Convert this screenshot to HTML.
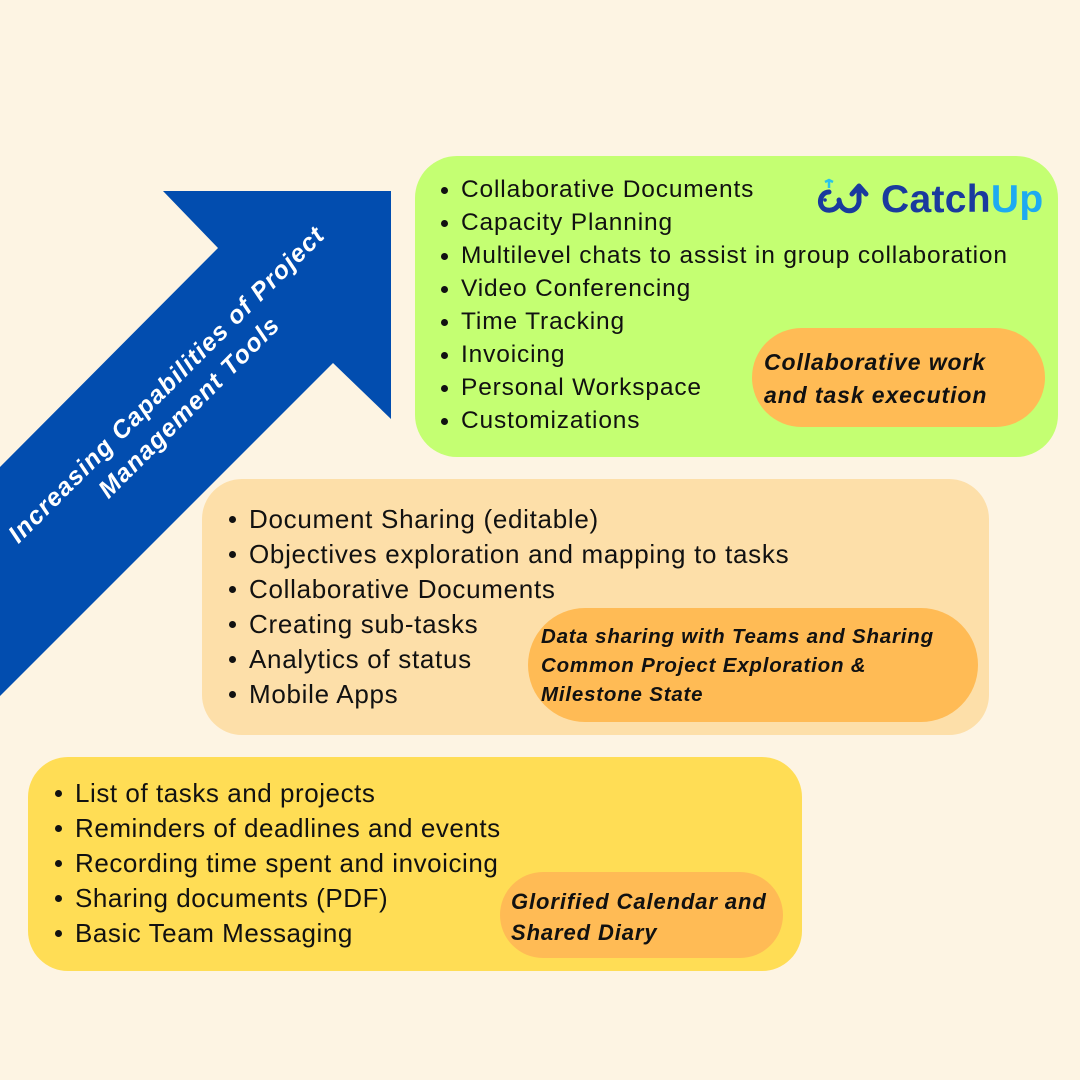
<!DOCTYPE html>
<html><head><meta charset="utf-8"><style>
*{margin:0;padding:0;box-sizing:border-box}
body{width:1080px;height:1080px;background:#fdf4e3;position:relative;overflow:hidden;font-family:"Liberation Sans",sans-serif;color:#111}
.box{position:absolute}
.l{position:absolute;white-space:nowrap}
.l:before{content:"";position:absolute;width:7px;height:7px;border-radius:50%;background:#111;top:50%;margin-top:-3px;left:-20px}
.pill{position:absolute;background:#ffbb55;border-radius:50px}
.pt{position:absolute;font-weight:bold;font-style:italic;white-space:nowrap;color:#111}
</style></head><body>
<svg style="position:absolute;left:0;top:0" width="1080" height="1080">
<polygon points="163,191 391,191 391,419 333,363 0,696 0,467 218,248" fill="#024daf"/>
<g transform="translate(178,396) rotate(-45)" fill="#fff" font-family="Liberation Sans" font-weight="bold" font-style="italic" font-size="25" letter-spacing="1.2" text-anchor="middle">
<text x="0" y="-8">Increasing Capabilities of Project</text>
<text x="0" y="24">Management Tools</text>
</g>
</svg>

<div class="box" style="left:415px;top:156px;width:643px;height:301px;background:#c4ff72;border-radius:42px"></div>
<div class="box" style="left:202px;top:479px;width:787px;height:256px;background:#fddfa9;border-radius:40px"></div>
<div class="box" style="left:28px;top:757px;width:774px;height:214px;background:#ffdd55;border-radius:40px"></div>

<div style="position:absolute;left:461px;top:0;font-size:24.5px;letter-spacing:0.85px">
<div class="l" style="top:175px;height:30px;line-height:30px">Collaborative Documents</div>
<div class="l" style="top:208px;height:30px;line-height:30px">Capacity Planning</div>
<div class="l" style="top:241px;height:30px;line-height:30px">Multilevel chats to assist in group collaboration</div>
<div class="l" style="top:274px;height:30px;line-height:30px">Video Conferencing</div>
<div class="l" style="top:307px;height:30px;line-height:30px">Time Tracking</div>
<div class="l" style="top:340px;height:30px;line-height:30px">Invoicing</div>
<div class="l" style="top:373px;height:30px;line-height:30px">Personal Workspace</div>
<div class="l" style="top:406px;height:30px;line-height:30px">Customizations</div>
</div>

<div style="position:absolute;left:249px;top:0;font-size:26px;letter-spacing:0.7px">
<div class="l" style="top:503px;height:32px;line-height:32px">Document Sharing (editable)</div>
<div class="l" style="top:538px;height:32px;line-height:32px">Objectives exploration and mapping to tasks</div>
<div class="l" style="top:573px;height:32px;line-height:32px">Collaborative Documents</div>
<div class="l" style="top:608px;height:32px;line-height:32px">Creating sub-tasks</div>
<div class="l" style="top:643px;height:32px;line-height:32px">Analytics of status</div>
<div class="l" style="top:678px;height:32px;line-height:32px">Mobile Apps</div>
</div>

<div style="position:absolute;left:75px;top:0;font-size:26px;letter-spacing:0.55px">
<div class="l" style="top:777px;height:32px;line-height:32px">List of tasks and projects</div>
<div class="l" style="top:812px;height:32px;line-height:32px">Reminders of deadlines and events</div>
<div class="l" style="top:847px;height:32px;line-height:32px">Recording time spent and invoicing</div>
<div class="l" style="top:882px;height:32px;line-height:32px">Sharing documents (PDF)</div>
<div class="l" style="top:917px;height:32px;line-height:32px">Basic Team Messaging</div>
</div>

<div class="pill" style="left:752px;top:328px;width:293px;height:99px"></div>
<div class="pt" style="left:764px;top:346px;font-size:23px;line-height:33px;letter-spacing:0.9px">Collaborative work<br>and task execution</div>

<div class="pill" style="left:528px;top:608px;width:450px;height:114px;border-radius:57px"></div>
<div class="pt" style="left:541px;top:622px;font-size:20.5px;line-height:29px;letter-spacing:0.8px">Data sharing with Teams and Sharing<br>Common Project Exploration &amp;<br>Milestone State</div>

<div class="pill" style="left:500px;top:872px;width:283px;height:86px;border-radius:43px"></div>
<div class="pt" style="left:511px;top:886px;font-size:22px;line-height:31px;letter-spacing:0.9px">Glorified Calendar and<br>Shared Diary</div>

<svg style="position:absolute;left:810px;top:174px" width="66" height="46" viewBox="0 0 60 46">
<path d="M16 18 C6 18 4 34 14 36 C20 37 24 34 26 30" fill="none" stroke="#1a3a9e" stroke-width="5" stroke-linecap="round"/>
<path d="M26 26 C28 40 44 40 46 28 L46 16" fill="none" stroke="#1a3a9e" stroke-width="5" stroke-linecap="round"/>
<path d="M39 20 L46 12 L53 20" fill="none" stroke="#1a3a9e" stroke-width="5" stroke-linecap="round" stroke-linejoin="round"/>
<path d="M16 14 L16 6 M12 8 L16 6 L20 8" fill="none" stroke="#29c4e8" stroke-width="2.5"/>
<circle cx="12" cy="26" r="1.8" fill="#1a3a9e"/>
</svg>
<div style="position:absolute;left:881px;top:176px;font-size:39px;font-weight:bold;line-height:48px;color:#1a3a9e;letter-spacing:0.3px">Catch<span style="color:#1eaaf1">Up</span></div>
</body></html>
